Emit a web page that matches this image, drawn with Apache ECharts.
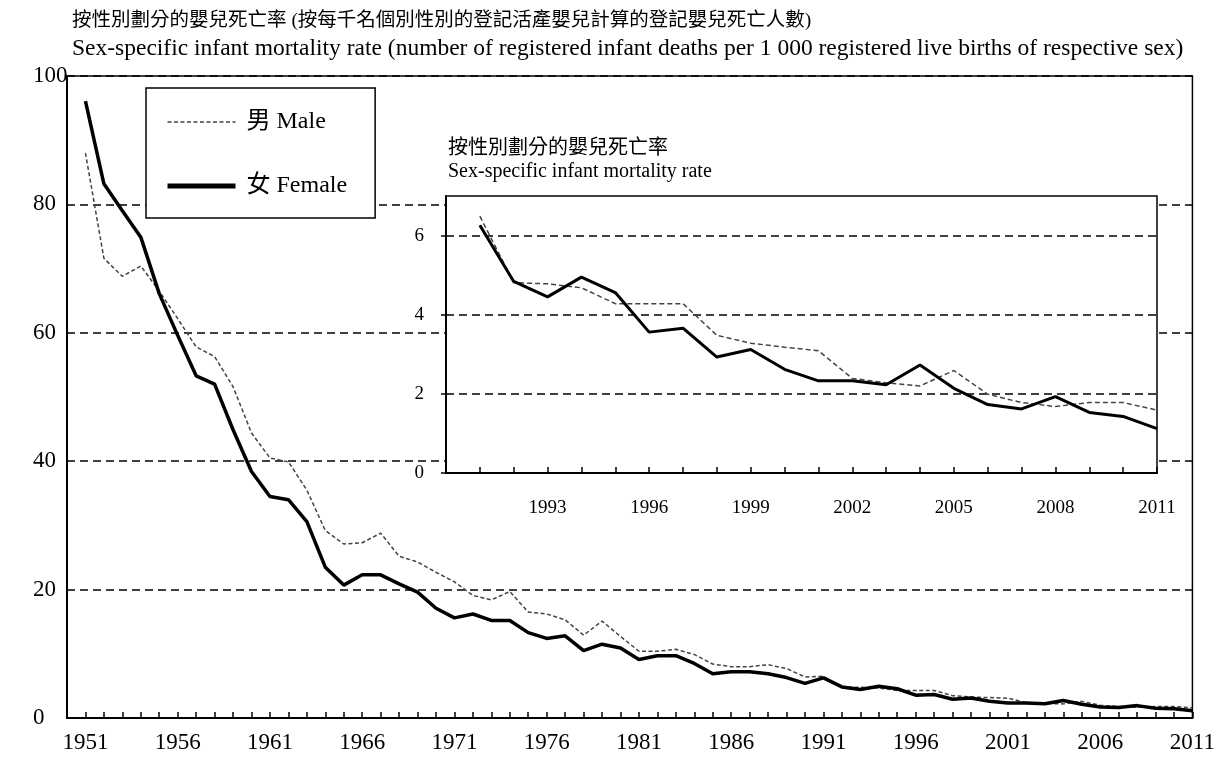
<!DOCTYPE html>
<html>
<head>
<meta charset="utf-8">
<script src="https://cdn.jsdelivr.net/npm/echarts@6/dist/echarts.min.js"></script>
<style>
  html, body { margin: 0; padding: 0; background: #fff; }
  #chart { width: 1218px; height: 764px; }
</style>
</head>
<body>
<div id="chart"></div>
<script>
// years 1950..2011, 1950 is an empty slot at the left edge
var years = []
for (var y = 1950; y <= 2011; y++) years.push(String(y))

var female = [null,
  96.1, 83.2, 79.0, 74.9, 66.1, 59.6, 53.3, 52.0, 44.9, 38.4,
  34.5, 34.0, 30.6, 23.5, 20.7, 22.3, 22.3, 20.9, 19.6, 17.1,
  15.6, 16.2, 15.2, 15.2, 13.3, 12.4, 12.8, 10.5, 11.5, 10.9,
  9.1, 9.7, 9.7, 8.5, 6.9, 7.2, 7.2, 6.9, 6.3, 5.4,
  6.26, 4.84, 4.45, 4.95, 4.56, 3.56, 3.66, 2.93, 3.12, 2.62,
  2.33, 2.33, 2.23, 2.73, 2.14, 1.73, 1.62, 1.93, 1.53, 1.43, 1.12]

var male = [null,
  88.0, 71.6, 68.8, 70.4, 66.5, 62.2, 57.8, 56.3, 51.6, 44.4,
  40.5, 39.9, 35.5, 29.2, 27.1, 27.3, 28.8, 25.2, 24.3, 22.7,
  21.2, 19.1, 18.4, 19.7, 16.5, 16.2, 15.3, 12.9, 15.1, 12.7,
  10.4, 10.4, 10.7, 9.9, 8.4, 8.0, 8.0, 8.3, 7.7, 6.4,
  6.49, 4.81, 4.78, 4.68, 4.28, 4.28, 4.28, 3.48, 3.28, 3.18,
  3.09, 2.39, 2.28, 2.20, 2.59, 1.99, 1.78, 1.68, 1.78, 1.78, 1.59]

// inset: 1990..2011, 1990 left empty
var insetYears = years.slice(40)
var insetFemale = [null].concat(female.slice(41))
var insetMale = [null].concat(male.slice(41))

var mainTicks = [0, 20, 40, 60, 80, 100]
var insetTicks = [0, 2, 4, 6]

var FONT = "'Liberation Serif', 'Noto Sans CJK TC'"
var gridDash = { color: '#000', width: 1.5, type: [8, 5] }

var chart = echarts.init(document.getElementById('chart'))
window.addEventListener('resize', function () { chart.resize() })

var option = {
  animation: false,
  backgroundColor: '#fff',
  textStyle: { fontFamily: FONT, color: '#000' },
  graphic: [
    { type: 'text', left: 72, top: 11,
      style: { text: '按性別劃分的嬰兒死亡率 (按每千名個別性別的登記活產嬰兒計算的登記嬰兒死亡人數)', font: '19.5px ' + FONT, fill: '#000' } },
    { type: 'text', left: 72, top: 37,
      style: { text: 'Sex-specific infant mortality rate (number of registered infant deaths per 1 000 registered live births of respective sex)', font: '23.5px ' + FONT, fill: '#000' } },
    { type: 'text', left: 448, top: 139,
      style: { text: '按性別劃分的嬰兒死亡率', font: '20px ' + FONT, fill: '#000' } },
    { type: 'text', left: 448, top: 162,
      style: { text: 'Sex-specific infant mortality rate', font: '20px ' + FONT, fill: '#000' } }
  ],
  legend: {
    left: 146, top: 88,
    orient: 'vertical',
    backgroundColor: '#fff',
    borderColor: '#000', borderWidth: 1.5,
    padding: [22, 28, 20, 19],
    itemWidth: 68, itemHeight: 22, itemGap: 40,
    textStyle: { fontSize: 24, fontFamily: FONT, color: '#000', padding: [0, 0, 0, 6] },
    data: [
      { name: '男 Male', lineStyle: { width: 1.5 }, itemStyle: { opacity: 0 } },
      { name: '女 Female', lineStyle: { width: 5 }, itemStyle: { opacity: 0 } }
    ]
  },
  grid: [
    { left: 67, right: 20, top: 76, bottom: 46, show: true, borderColor: '#000', borderWidth: 1.5 },
    { left: 446, right: 61, top: 196, bottom: 291, show: true, backgroundColor: '#fff',
      borderColor: '#000', borderWidth: 1.5, z: 3 }
  ],
  xAxis: [
    {
      type: 'category', gridIndex: 0, data: years, boundaryGap: false,
      axisLine: { lineStyle: { color: '#000', width: 2 } },
      axisTick: { inside: true, length: 6, interval: 0, lineStyle: { color: '#000', width: 1.5 } },
      axisLabel: {
        fontSize: 23, color: '#000', fontFamily: FONT, margin: 13,
        interval: function (i, v) { return (Number(v) - 1951) % 5 === 0 }
      },
      splitLine: { show: false }
    },
    {
      type: 'category', gridIndex: 1, data: insetYears, boundaryGap: false, z: 4,
      axisLine: { lineStyle: { color: '#000', width: 2 } },
      axisTick: { inside: true, length: 6, interval: 0, lineStyle: { color: '#000', width: 1.5 } },
      axisLabel: {
        fontSize: 19, color: '#000', fontFamily: FONT, margin: 26,
        interval: function (i, v) { var n = Number(v); return n !== 1990 && (n - 1990) % 3 === 0 }
      },
      splitLine: { show: false }
    }
  ],
  yAxis: [
    {
      type: 'value', gridIndex: 0, min: 0, max: 100, interval: 20,
      axisLine: { show: true, lineStyle: { color: '#000', width: 2 } },
      axisTick: { show: false },
      axisLabel: { fontSize: 23, color: '#000', fontFamily: FONT, margin: 34, align: 'left', customValues: mainTicks },
      splitLine: { show: true, lineStyle: gridDash }
    },
    {
      type: 'value', gridIndex: 1, min: 0, max: 7, interval: 1, z: 4,
      axisLine: { show: true, lineStyle: { color: '#000', width: 2 } },
      axisTick: { show: true, length: 5, customValues: insetTicks, lineStyle: { color: '#000', width: 1.5 } },
      axisLabel: { fontSize: 19, color: '#000', fontFamily: FONT, margin: 22, customValues: insetTicks },
      splitLine: { show: true, lineStyle: { color: '#000', width: 1.5, type: [8, 5] } }
    }
  ],
  series: [
    { name: '男 Male', type: 'line', xAxisIndex: 0, yAxisIndex: 0, data: male,
      symbol: 'none', lineStyle: { color: '#444', width: 1.5, type: [4, 2.5] }, itemStyle: { color: '#444' } },
    { name: '女 Female', type: 'line', xAxisIndex: 0, yAxisIndex: 0, data: female,
      symbol: 'none', lineStyle: { color: '#000', width: 3.5 }, itemStyle: { color: '#000' } },
    { name: 'inset male', type: 'line', xAxisIndex: 1, yAxisIndex: 1, data: insetMale, z: 5,
      symbol: 'none', lineStyle: { color: '#444', width: 1.5, type: [5, 3] } },
    { name: 'inset female', type: 'line', xAxisIndex: 1, yAxisIndex: 1, data: insetFemale, z: 5,
      symbol: 'none', lineStyle: { color: '#000', width: 3 } }
  ]
}

chart.setOption(option)
</script>
</body>
</html>
